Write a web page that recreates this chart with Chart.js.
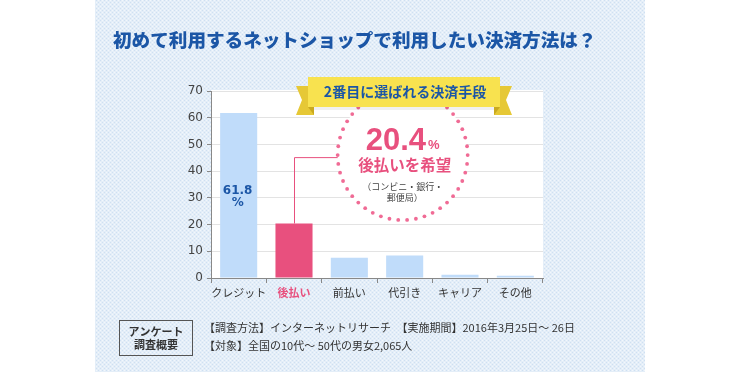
<!DOCTYPE html>
<html>
<head>
<meta charset="utf-8">
<script src="https://cdn.jsdelivr.net/npm/chart.js@4"></script>
<style>
  html, body { margin: 0; padding: 0; background: #fff; }
  canvas { display: block; }
</style>
</head>
<body>
<canvas id="payChart" width="740" height="372"></canvas>
<script>
// データ
const categories = ['クレジット', '後払い', '前払い', '代引き', 'キャリア', 'その他'];
const values = [61.8, 20.4, 7.6, 8.4, 1.2, 0.8];
const highlightIndex = 1;
const yMin = 0;
const yMax = 70;
const yStep = 10;

const titleText = '初めて利用するネットショップで利用したい決済方法は？';
const bannerText = '2番目に選ばれる決済手段';
const bigValue = '20.4';
const circleLines = ['後払いを希望', '（コンビニ・銀行・', '郵便局）'];
const boxLines = ['アンケート', '調査概要'];
const noteLines = [
    '【調査方法】インターネットリサーチ　【実施期間】2016年3月25日～ 26日',
    '【対象】全国の10代～ 50代の男女2,065人'
];

const JP = '"Noto Sans CJK JP", "DejaVu Sans", sans-serif';
const BLUE = '#1b56a6';
const PINK = '#e8507e';
const LIGHT = '#c0dcfa';

// 背景の点模様
function makePattern(ctx) {
    const c = document.createElement('canvas');
    c.width = 4; c.height = 4;
    const p = c.getContext('2d');
    p.fillStyle = '#e4eef8';
    p.fillRect(0, 0, 4, 4);
    p.fillStyle = '#cfe0f2';
    p.fillRect(0, 0, 1, 1);
    p.fillRect(2, 2, 1, 1);
    p.fillStyle = '#f2f7fc';
    p.fillRect(2, 0, 1, 1);
    p.fillRect(0, 2, 1, 1);
    return ctx.createPattern(c, 'repeat');
}

const backgroundPlugin = {
    id: 'background',
    beforeDraw(chart) {
        const ctx = chart.ctx;
        const a = chart.chartArea;
        ctx.save();
        ctx.fillStyle = '#fff';
        ctx.fillRect(0, 0, chart.width, chart.height);
        ctx.fillStyle = makePattern(ctx);
        ctx.fillRect(95, 0, 550, chart.height);
        ctx.fillStyle = '#fff';
        ctx.fillRect(a.left, a.top - 1, a.right - a.left, a.bottom - a.top + 1);
        ctx.restore();
    }
};

const annotationPlugin = {
    id: 'annotations',
    afterDatasetsDraw(chart) {
        const ctx = chart.ctx;
        const x = chart.scales.x;
        const y = chart.scales.y;

        // 円
        const cx = x.getPixelForValue(3) - 2;
        const cy = y.getPixelForValue(46);
        const r = 65;
        ctx.save();
        ctx.fillStyle = '#fff';
        ctx.beginPath();
        ctx.arc(cx, cy, r, 0, Math.PI * 2);
        ctx.fill();
        ctx.fillStyle = '#f06b95';
        const n = 46;
        for (let i = 0; i < n; i++) {
            const t = i / n * Math.PI * 2;
            ctx.beginPath();
            ctx.arc(cx + r * Math.cos(t), cy + r * Math.sin(t), 1.9, 0, Math.PI * 2);
            ctx.fill();
        }

        // 引き出し線
        const bx = x.getPixelForValue(highlightIndex);
        const by = y.getPixelForValue(values[highlightIndex]);
        const ly = cy + 2;
        ctx.strokeStyle = PINK;
        ctx.lineWidth = 1;
        ctx.beginPath();
        ctx.moveTo(bx + 0.5, by);
        ctx.lineTo(bx + 0.5, ly + 0.5);
        ctx.lineTo(cx - r, ly + 0.5);
        ctx.stroke();

        // 円の中の文字
        ctx.textBaseline = 'alphabetic';
        ctx.fillStyle = PINK;
        ctx.font = 'bold 31px "Liberation Sans", Arial, sans-serif';
        const bw = ctx.measureText(bigValue).width;
        ctx.font = 'bold 13px "Liberation Sans", Arial, sans-serif';
        const pw = ctx.measureText('%').width;
        const sx = cx - (bw + pw + 2) / 2;
        ctx.font = 'bold 31px "Liberation Sans", Arial, sans-serif';
        ctx.textAlign = 'left';
        ctx.fillText(bigValue, sx, 150);
        ctx.font = 'bold 13px "Liberation Sans", Arial, sans-serif';
        ctx.fillText('%', sx + bw + 2, 149);

        ctx.textAlign = 'center';
        ctx.textBaseline = 'middle';
        ctx.font = 'bold 15.5px ' + JP;
        ctx.fillText(circleLines[0], cx + 2, 165);
        ctx.fillStyle = '#444';
        ctx.font = '9px ' + JP;
        ctx.fillText(circleLines[1], cx, 187);
        ctx.fillText(circleLines[2], cx + 2, 198);

        // リボン
        const l = 308, rr = 500, t0 = 77, t1 = 107;
        ctx.fillStyle = '#e6c836';
        ctx.beginPath();
        ctx.moveTo(l + 6, 86); ctx.lineTo(l - 12, 86); ctx.lineTo(l - 6, 100);
        ctx.lineTo(l - 12, 115); ctx.lineTo(l + 6, 115); ctx.closePath();
        ctx.fill();
        ctx.beginPath();
        ctx.moveTo(rr - 6, 86); ctx.lineTo(rr + 12, 86); ctx.lineTo(rr + 6, 100);
        ctx.lineTo(rr + 12, 115); ctx.lineTo(rr - 6, 115); ctx.closePath();
        ctx.fill();
        ctx.fillStyle = '#c9a91f';
        ctx.beginPath();
        ctx.moveTo(l, t1); ctx.lineTo(l + 6, t1); ctx.lineTo(l + 6, 115); ctx.closePath();
        ctx.fill();
        ctx.beginPath();
        ctx.moveTo(rr, t1); ctx.lineTo(rr - 6, t1); ctx.lineTo(rr - 6, 115); ctx.closePath();
        ctx.fill();
        ctx.fillStyle = 'rgba(0,0,0,0.06)';
        ctx.fillRect(l + 6, t1, rr - l - 12, 3);
        ctx.fillStyle = '#f8e24f';
        ctx.fillRect(l, t0, rr - l, t1 - t0);
        ctx.fillStyle = BLUE;
        ctx.font = 'bold 14px ' + JP;
        ctx.fillText(bannerText, (l + rr) / 2 + 1, 92);

        // クレジットのラベル
        const x0 = x.getPixelForValue(0);
        const mid = (y.getPixelForValue(values[0]) + y.getPixelForValue(0)) / 2;
        ctx.font = 'bold 12px "DejaVu Sans", sans-serif';
        ctx.fillText(values[0].toFixed(1), x0 - 1, mid - 5);
        ctx.fillText('%', x0 - 1, mid + 7);
        ctx.restore();
    },
    afterDraw(chart) {
        const ctx = chart.ctx;
        ctx.save();
        // タイトル
        ctx.fillStyle = BLUE;
        ctx.font = '900 18.6px ' + JP;
        ctx.textAlign = 'left';
        ctx.textBaseline = 'middle';
        ctx.fillText(titleText, 113, 40);

        // 調査概要
        ctx.strokeStyle = '#555';
        ctx.lineWidth = 1;
        ctx.strokeRect(119.5, 320.5, 73, 35);
        ctx.fillStyle = '#333';
        ctx.textAlign = 'center';
        ctx.font = 'bold 11px ' + JP;
        ctx.fillText(boxLines[0], 156, 332);
        ctx.fillText(boxLines[1], 156, 345);
        ctx.textAlign = 'left';
        ctx.font = '11px ' + JP;
        ctx.fillText(noteLines[0], 204, 328);
        ctx.fillText(noteLines[1], 204, 346);
        ctx.restore();
    }
};

const ctx = document.getElementById('payChart').getContext('2d');
new Chart(ctx, {
    type: 'bar',
    data: {
        labels: categories,
        datasets: [{
            data: values,
            backgroundColor: values.map((v, i) => i === highlightIndex ? PINK : LIGHT),
            borderWidth: 0,
            barPercentage: 0.67,
            categoryPercentage: 1
        }]
    },
    options: {
        responsive: false,
        devicePixelRatio: 1,
        animation: false,
        layout: { padding: { left: 169, right: 197, top: 91, bottom: 70 } },
        plugins: {
            legend: { display: false },
            tooltip: { enabled: false }
        },
        scales: {
            x: {
                offset: true,
                grid: {
                    offset: true,
                    drawOnChartArea: false,
                    tickLength: 5,
                    tickColor: '#888'
                },
                border: { color: '#888' },
                ticks: {
                    padding: 3,
                    autoSkip: false,
                    maxRotation: 0,
                    minRotation: 0,
                    font: ctx => ctx.index === highlightIndex
                        ? { family: JP, size: 11, weight: 'bold' }
                        : { family: JP, size: 11 },
                    color: ctx => ctx.index === highlightIndex ? PINK : '#333'
                },
                afterFit: s => { s.height = 24; }
            },
            y: {
                min: yMin,
                max: yMax,
                ticks: {
                    stepSize: yStep,
                    padding: 4,
                    color: '#444',
                    font: { family: '"DejaVu Sans", sans-serif', size: 12 }
                },
                grid: {
                    color: '#e3e3e3',
                    tickColor: '#888',
                    tickLength: 4
                },
                border: { color: '#888' },
                afterFit: s => { s.width = 42; }
            }
        }
    },
    plugins: [backgroundPlugin, annotationPlugin]
});
</script>
</body>
</html>
